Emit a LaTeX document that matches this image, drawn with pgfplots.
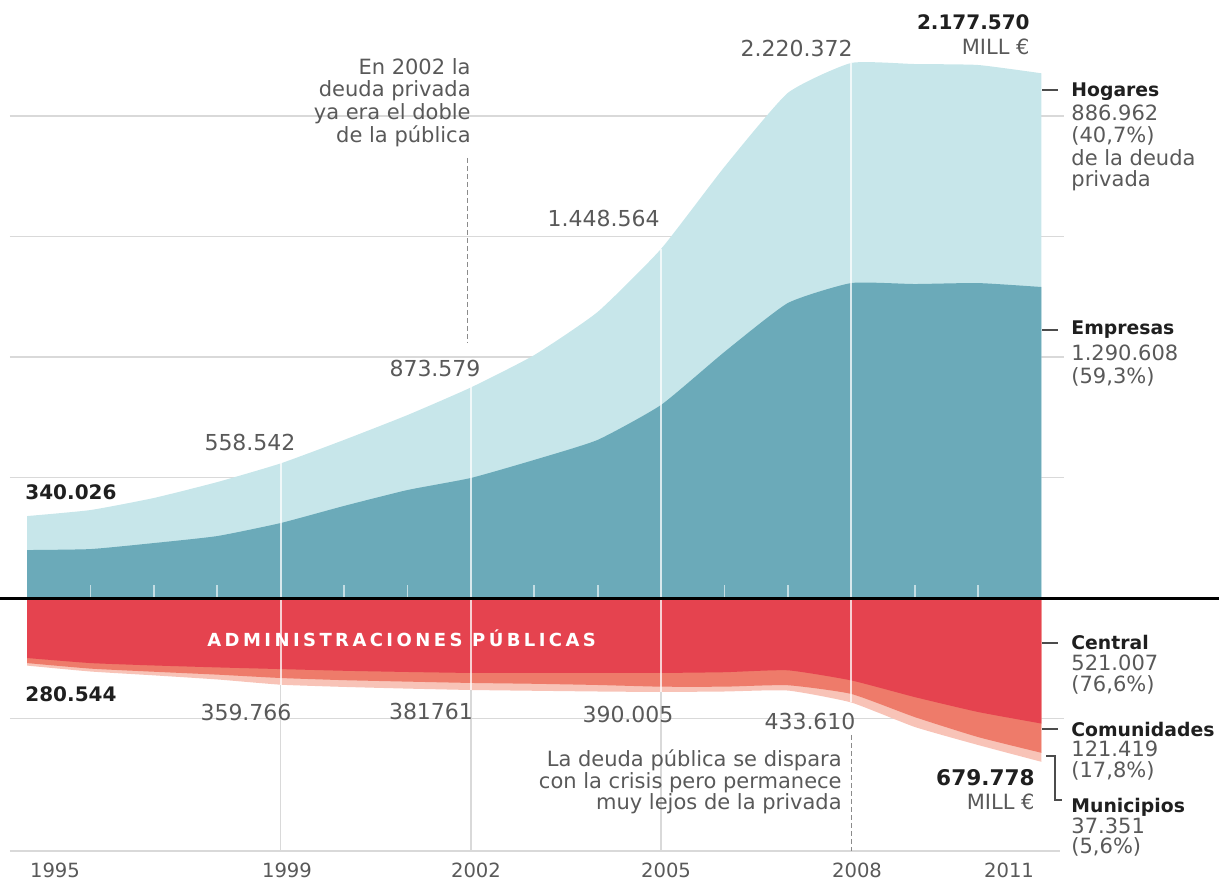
\documentclass[border=0pt]{standalone}
\usepackage{pgfplots}
\pgfplotsset{compat=1.18}
\usepackage{pgfplotstable}
\usepackage{fontspec}
\setmainfont{DejaVu Sans}
\newfontfamily\spacedf{DejaVu Sans}[LetterSpace=19]
\definecolor{hog}{HTML}{C7E6EA}
\definecolor{emp}{HTML}{6BAAB9}
\definecolor{cen}{HTML}{E5434F}
\definecolor{com}{HTML}{EE7B6A}
\definecolor{mun}{HTML}{F8C3B7}
\definecolor{txt}{HTML}{595959}
\definecolor{grd}{HTML}{D9D9D9}

\pgfplotstableread{
year emp hog cen com mun
1995 199000 141026 249000 21000 10544
1996 203000 162000 270000 23000 12000
1997 228000 187000 280000 26000 15000
1998 257000 224000 288000 30000 20000
1999 311000 247542 295000 37000 27766
2000 382000 274000 302000 39000 28000
2001 448000 311000 307000 40000 29000
2002 498000 375579 311000 41500 29261
2003 573000 435000 311000 45000 29000
2004 656000 531000 311000 50000 27000
2005 801000 647564 311000 57000 22005
2006 1021000 768000 308000 60000 20000
2007 1224000 872000 300000 62000 22000
2008 1307000 913372 342000 56000 35610
2009 1303000 913000 411000 83000 41000
2010 1307000 905000 473000 104000 33000
2011 1290608 886962 521007 121419 37351
}\data

\tikzset{
  num/.style={text=txt, font=\fontsize{11}{13}\selectfont, inner sep=0pt},
  rnum/.style={text=txt, font=\fontsize{10.5}{12}\selectfont, inner sep=0pt},
  bnum/.style={text=black!88, font=\bfseries\fontsize{10}{12}\selectfont, inner sep=0pt},
  btit/.style={text=black!88, font=\bfseries\fontsize{9.4}{11}\selectfont, inner sep=0pt},
  ann/.style={text=txt, font=\fontsize{10.5}{12}\selectfont, inner sep=0pt},
  yr/.style={text=txt, font=\fontsize{9.8}{11}\selectfont, inner sep=0pt},
}

\begin{document}
\begin{tikzpicture}
\path[use as bounding box] (0,0) rectangle (609.5pt,439.5pt);
\begin{axis}[
  at={(0,0)}, anchor=south west,
  scale only axis, width=609.5pt, height=439.5pt,
  xmin=1994.5741, xmax=2013.8012,
  ymin=-1166150, ymax=2481700,
  axis line style={draw=none},
  xtick=\empty, ytick=\empty,
  clip=false,
]
% grid lines
\draw[grd, line width=0.8pt] (axis cs:1994.73,2000000) -- (axis cs:2011.36,2000000);
\draw[grd, line width=0.8pt] (axis cs:1994.73,1500000) -- (axis cs:2011.36,1500000);
\draw[grd, line width=0.8pt] (axis cs:1994.73,1000000) -- (axis cs:2011.36,1000000);
\draw[grd, line width=0.8pt] (axis cs:1994.73,500000) -- (axis cs:2011.36,500000);
\draw[grd, line width=0.8pt] (axis cs:1994.73,-500000) -- (axis cs:2011.36,-500000);
\draw[grd, line width=0.8pt] (axis cs:1994.73,-1050000) -- (axis cs:2011.3,-1050000);
% grey vertical lines below negative area
\addplot[grd, line width=0.8pt] coordinates {(1999,-359766) (1999,-1050000)};
\addplot[grd, line width=0.8pt] coordinates {(2002,-381761) (2002,-1050000)};
\addplot[grd, line width=0.8pt] coordinates {(2005,-390005) (2005,-1050000)};
\addplot[txt!70, line width=0.7pt, dash pattern=on 2.5pt off 1.5pt] coordinates {(2008,-568000) (2008,-1050000)};
% dotted annotation line 2002
\addplot[txt!70, line width=0.7pt, dash pattern=on 2.5pt off 1.5pt] coordinates {(2001.95,1826000) (2001.95,1062000)};
% areas
\addplot[draw=none, fill=hog, smooth, tension=0.3] table[x=year, y expr=\thisrow{emp}+\thisrow{hog}] {\data} \closedcycle;
\addplot[draw=none, fill=emp, smooth, tension=0.3] table[x=year, y=emp] {\data} \closedcycle;
\addplot[draw=none, fill=mun, smooth, tension=0.3] table[x=year, y expr=-(\thisrow{cen}+\thisrow{com}+\thisrow{mun})] {\data} \closedcycle;
\addplot[draw=none, fill=com, smooth, tension=0.3] table[x=year, y expr=-(\thisrow{cen}+\thisrow{com})] {\data} \closedcycle;
\addplot[draw=none, fill=cen, smooth, tension=0.3] table[x=year, y expr=-\thisrow{cen}] {\data} \closedcycle;
% white vertical lines
\addplot[white, opacity=0.75, line width=1pt] coordinates {(1999,-359766) (1999,558542)};
\addplot[white, opacity=0.75, line width=1pt] coordinates {(2002,-381761) (2002,873579)};
\addplot[white, opacity=0.75, line width=1pt] coordinates {(2005,-390005) (2005,1448564)};
\addplot[white, opacity=0.75, line width=1pt] coordinates {(2008,-433610) (2008,2220372)};
% small year ticks
\pgfplotsinvokeforeach{1996,1997,1998,2000,2001,2003,2004,2006,2007,2009,2010}{
  \draw[white, opacity=0.6, line width=0.9pt] (axis cs:#1,4000) -- (axis cs:#1,56000);
}
% zero line
\draw[black, line width=1.5pt] (axis cs:1994.5741,0) -- (axis cs:2013.8012,0);
\end{axis}

\begin{scope}[x=0.5pt, y=-0.5pt, shift={(0pt,439.5pt)}]
% label dashes
\draw[black!70, line width=0.7pt] (1042,90) -- (1058,90);
\draw[black!70, line width=0.7pt] (1042,330) -- (1058,330);
\draw[black!70, line width=0.7pt] (1042,643) -- (1058,643);
\draw[black!70, line width=0.7pt] (1042,729) -- (1058,729);
\draw[black!70, line width=0.7pt] (1046,756) -- (1055,756) -- (1055,800) -- (1062,800);
% top annotations
\node[bnum, anchor=east] at (1030,22) {2.177.570};
\node[rnum, anchor=east] at (1030,47) {MILL €};
\node[num, anchor=east] at (853,48) {2.220.372};
\node[ann, anchor=base east] at (471,75) {En 2002 la};
\node[ann, anchor=base east] at (471,97) {deuda privada};
\node[ann, anchor=base east] at (471,120) {ya era el doble};
\node[ann, anchor=base east] at (471,143) {de la pública};
\node[num, anchor=east] at (660,218) {1.448.564};
\node[num] at (435,368) {873.579};
\node[num] at (250,442) {558.542};
\node[bnum, anchor=west] at (25,492) {340.026};
% public debt labels
\node[text=white, font=\spacedf\bfseries\fontsize{9}{11}\selectfont, inner sep=0pt, anchor=west] at (207,638) {ADMINISTRACIONES PÚBLICAS};
\node[bnum, anchor=west] at (25,694) {280.544};
\node[num] at (246,712) {359.766};
\node[num] at (431,711) {381761};
\node[num] at (628,714) {390.005};
\node[num] at (810,721) {433.610};
\node[ann, anchor=base east] at (842,766) {La deuda pública se dispara};
\node[ann, anchor=base east] at (842,788) {con la crisis pero permanece};
\node[ann, anchor=base east] at (842,809) {muy lejos de la privada};
\node[bnum, anchor=east, font=\bfseries\fontsize{10.8}{12}\selectfont] at (1035,778) {679.778};
\node[rnum, anchor=east] at (1035,802) {MILL €};
% right-hand labels
\node[btit, anchor=base west] at (1071,97) {Hogares};
\node[rnum, anchor=base west] at (1071,121) {886.962};
\node[rnum, anchor=base west] at (1071,143) {(40,7\%)};
\node[rnum, anchor=base west] at (1071,166) {de la deuda};
\node[rnum, anchor=base west] at (1071,187) {privada};
\node[btit, anchor=base west] at (1071,335) {Empresas};
\node[rnum, anchor=base west] at (1071,361) {1.290.608};
\node[rnum, anchor=base west] at (1071,384) {(59,3\%)};
\node[btit, anchor=base west] at (1071,649) {Central};
\node[rnum, anchor=base west] at (1071,670) {521.007};
\node[rnum, anchor=base west] at (1071,691) {(76,6\%)};
\node[btit, anchor=base west] at (1071,736) {Comunidades};
\node[rnum, anchor=base west] at (1071,756) {121.419};
\node[rnum, anchor=base west] at (1071,777) {(17,8\%)};
\node[btit, anchor=base west] at (1071,812) {Municipios};
\node[rnum, anchor=base west] at (1071,833) {37.351};
\node[rnum, anchor=base west] at (1071,853) {(5,6\%)};
% years
\node[yr] at (55,870) {1995};
\node[yr] at (287,870) {1999};
\node[yr] at (476,870) {2002};
\node[yr] at (666,870) {2005};
\node[yr] at (857,870) {2008};
\node[yr] at (1009,870) {2011};
\end{scope}
\end{tikzpicture}
\end{document}
